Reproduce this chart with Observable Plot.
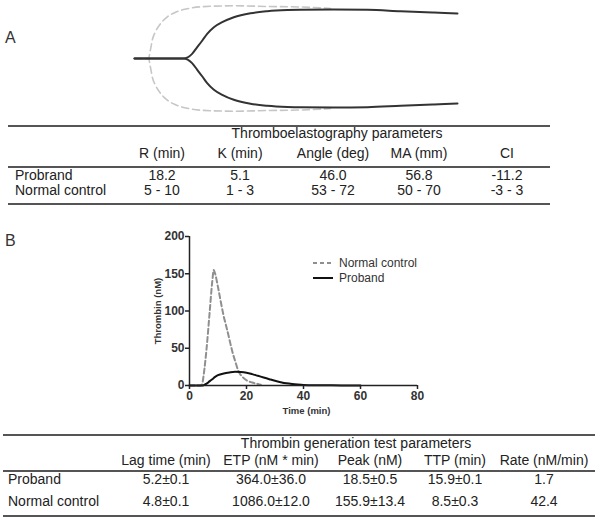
<!DOCTYPE html>
<html><head><meta charset="utf-8">
<script src="https://cdn.jsdelivr.net/npm/d3@7"></script>
<script src="https://cdn.jsdelivr.net/npm/@observablehq/plot@0.6"></script>
<style>
body{margin:0;background:#fff;font-family:"Liberation Sans",Arial,sans-serif;color:#222;}
#root{position:relative;width:600px;height:522px;overflow:hidden;background:#fff;}
.abs{position:absolute;}
.c{position:absolute;transform:translate(-50%,-50%);white-space:nowrap;line-height:1;font-size:14px;}
.l{position:absolute;transform:translate(0,-50%);white-space:nowrap;line-height:1;font-size:14px;}
.rule{position:absolute;height:1.5px;background:#555;}
.panel{position:absolute;left:5px;font-size:16px;line-height:1;transform:translate(0,-50%);color:#333;}
</style></head><body><div id="root"></div>
<script>
// ---------- DATA ----------
// Thromboelastography trace: time (min) vs amplitude (mm)
const tegProbandTime = [0, 18.2, 21.4, 23.3, 25.2, 27.0, 29.5, 32.6, 36.9, 43.1, 49.3, 56.8, 61.7, 74.0, 86.6, 98.9, 111.2, 120];
const tegProbandAmp  = [0, 0, 5.4, 13.1, 20.9, 28.6, 36.3, 42.1, 47.9, 52.5, 54.8, 56.2, 56.6, 56.8, 56.4, 54.8, 53.3, 52.2];
const tegControlTime = [0, 5.2, 5.9, 6.7, 7.8, 9.7, 12.2, 15.2, 19.6, 24.5, 36.8, 49.4, 61.7, 72.9];
const tegControlAmp  = [0, 0, 9.7, 22.6, 31.1, 40.5, 48.3, 53.6, 57.6, 59.9, 61.1, 60.3, 59.7, 58.0];

// Thrombin generation curves: time (min) vs thrombin (nM)
const tgControlTime = [0, 2, 4, 4.5, 5, 6, 7, 8, 8.5, 9, 10, 11, 12, 13, 14, 15, 16, 17, 18, 19, 20, 22, 24, 25];
const tgControlVal  = [0, 0, 0, 3, 15, 50, 95, 140, 155, 150, 132, 112, 93, 78, 62, 46, 33, 21, 14, 10, 7, 4, 2, 1];
const tgProbandTime = [0, 4.5, 5, 6, 7, 8, 9, 10, 12, 14, 16, 18, 20, 22, 24, 26, 28, 30, 32, 34, 36, 38, 40, 45, 50, 55, 60];
const tgProbandVal  = [0, 0, 0.5, 2.5, 5.5, 8.5, 11.5, 13.8, 16.2, 17.6, 18.5, 18.2, 17.2, 15.3, 13, 10.8, 8.5, 6.3, 4.5, 3, 2, 1.3, 0.8, 0.4, 0.2, 0.1, 0];
const tgXTicks = [0, 20, 40, 60, 80];
const tgYTicks = [0, 50, 100, 150, 200];
const tgXLabel = "Time (min)";
const tgYLabel = "Thrombin (nM)";
const legendLabels = ["Normal control", "Proband"];
const panelLabels = ["A", "B"];

// Tables
const tegTitle = "Thromboelastography parameters";
const tegColumns = ["R (min)", "K (min)", "Angle (deg)", "MA (mm)", "CI"];
const tegRowNames = ["Probrand", "Normal control"];
const tegProbandParams = ["18.2", "5.1", "46.0", "56.8", "-11.2"];
const tegControlParams = ["5 - 10", "1 - 3", "53 - 72", "50 - 70", "-3 - 3"];

const tgtTitle = "Thrombin generation test parameters";
const tgtColumns = ["Lag time (min)", "ETP (nM * min)", "Peak (nM)", "TTP (min)", "Rate (nM/min)"];
const tgtRowNames = ["Proband", "Normal control"];
const tgtProbandParams = ["5.2±0.1", "364.0±36.0", "18.5±0.5", "15.9±0.1", "1.7"];
const tgtControlParams = ["4.8±0.1", "1086.0±12.0", "155.9±13.4", "8.5±0.3", "42.4"];

// ---------- LAYOUT ----------
const root = document.getElementById("root");
function add(html){ const d=document.createElement("div"); d.innerHTML=html; const e=d.firstElementChild; root.appendChild(e); return e; }

// Panel A: TEG trace
function tegRows(times, amps){
  const rows=[];
  times.forEach((t,i)=>{ rows.push({t, y: amps[i]/2, side:"top"}); });
  times.forEach((t,i)=>{ rows.push({t, y: -amps[i]/2, side:"bottom"}); });
  return rows;
}
const teg = Plot.plot({
  width: 600, height: 115, margin: 0,
  x: {domain: [0, 120], range: [134, 457], axis: null},
  y: {domain: [-30, 30], range: [109.75, 6.25], axis: null},
  marks: [
    Plot.line(tegRows(tegControlTime, tegControlAmp), {x:"t", y:"y", z:"side", stroke:"#c6c6c6", strokeWidth:1.6, strokeDasharray:"7,4", curve:"monotone-x"}),
    Plot.line(tegRows(tegProbandTime, tegProbandAmp), {x:"t", y:"y", z:"side", stroke:"#333", strokeWidth:2, curve:"monotone-x"})
  ]
});
teg.style.position="absolute"; teg.style.left="0px"; teg.style.top="0px";
root.appendChild(teg);

add(`<div class="panel" style="top:38px">${panelLabels[0]}</div>`);
add(`<div class="panel" style="top:241px">${panelLabels[1]}</div>`);

// Tables
function drawTable(L, title, cols, rowNames, rowsVals){
  add(`<div class="rule" style="left:${L.left}px;width:${L.right-L.left}px;top:${L.topRule-0.75}px"></div>`);
  add(`<div class="rule" style="left:${L.left}px;width:${L.right-L.left}px;top:${L.midRule-0.75}px"></div>`);
  add(`<div class="rule" style="left:${L.left}px;width:${L.right-L.left}px;top:${L.bottomRule-0.75}px"></div>`);
  add(`<div class="c" style="left:${L.titleX}px;top:${L.titleY}px">${title}</div>`);
  cols.forEach((c,i)=> add(`<div class="c" style="left:${L.cols[i]}px;top:${L.header}px">${c}</div>`));
  rowNames.forEach((r,j)=>{
    add(`<div class="l" style="left:${L.labelX}px;top:${L.rows[j]}px">${r}</div>`);
    rowsVals[j].forEach((v,i)=> add(`<div class="c" style="left:${L.cols[i]}px;top:${L.rows[j]}px">${v}</div>`));
  });
}
drawTable({left:8, right:550, topRule:126, titleX:337, titleY:133, header:153, midRule:167, rows:[175,190], bottomRule:204, cols:[162,240,333,419,507], labelX:15},
  tegTitle, tegColumns, tegRowNames, [tegProbandParams, tegControlParams]);
drawTable({left:3, right:595, topRule:435, titleX:356, titleY:443, header:460, midRule:471, rows:[478.5,500.5], bottomRule:516, cols:[166,271,370,455,544], labelX:8},
  tgtTitle, tgtColumns, tgtRowNames, [tgtProbandParams, tgtControlParams]);

// Panel B: thrombin generation
const tgControl = tgControlTime.map((t,i)=>({t, v: tgControlVal[i]}));
const tgProband = tgProbandTime.map((t,i)=>({t, v: tgProbandVal[i]}));
const tg = Plot.plot({
  width: 600, height: 200,
  marginTop: 16, marginBottom: 35, marginLeft: 189, marginRight: 183,
  style: {fontFamily: "Liberation Sans, Arial, sans-serif", fontSize: "12px", fontWeight: "bold", color: "#333", background: "transparent"},
  x: {domain: [0, 80]},
  y: {domain: [0, 200]},
  marks: [
    Plot.line(tgControl, {x:"t", y:"v", stroke:"#8f8f8f", strokeWidth:2, strokeDasharray:"5,3", curve:"monotone-x"}),
    Plot.line(tgProband, {x:"t", y:"v", stroke:"#111", strokeWidth:2, curve:"monotone-x"}),
    Plot.ruleX([0], {stroke:"#222", strokeWidth:1.5}),
    Plot.ruleY([0], {stroke:"#222", strokeWidth:1.5}),
    Plot.axisX({ticks: tgXTicks, tickSize: 4, tickPadding: 2, label: null, stroke:"#222", strokeWidth:1.5, fill:"#333"}),
    Plot.axisY({ticks: tgYTicks, tickSize: 4, tickPadding: 1, label: null, stroke:"#222", strokeWidth:1.5, fill:"#333"}),
    Plot.text([tgXLabel], {frameAnchor:"bottom", dy:25, dx:3, textAnchor:"middle", lineAnchor:"middle", fontSize:9.5, fill:"#333"}),
    Plot.text([tgYLabel], {frameAnchor:"left", dx:-32, rotate:-90, textAnchor:"middle", lineAnchor:"middle", fontSize:9.5, fill:"#333"})
  ]
});
tg.style.position="absolute"; tg.style.left="0px"; tg.style.top="220px";
root.appendChild(tg);

// Legend for panel B
const legendStyles = [{stroke:"#8f8f8f", dash:"4,3"}, {stroke:"#111", dash:"none"}];
const legendYs = [263, 278];
legendLabels.forEach((lab,i)=>{
  add(`<svg class="abs" width="20" height="4" style="left:313px;top:${legendYs[i]-2}px"><line x1="0" x2="20" y1="2" y2="2" stroke="${legendStyles[i].stroke}" stroke-width="2" stroke-dasharray="${legendStyles[i].dash}"/></svg>`);
  add(`<div class="l" style="left:339px;top:${legendYs[i]}px;font-size:12px;color:#333">${lab}</div>`);
});
</script></body></html>
